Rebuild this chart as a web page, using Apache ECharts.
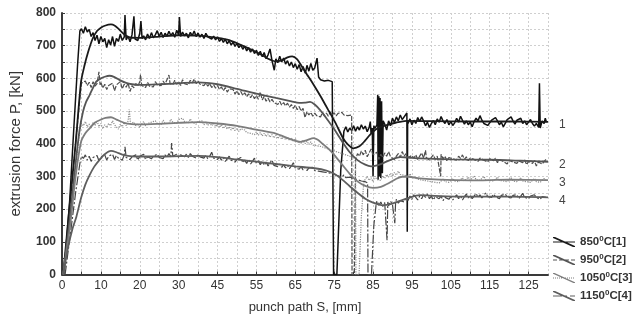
<!DOCTYPE html>
<html><head><meta charset="utf-8">
<script src="https://cdn.jsdelivr.net/npm/echarts@6/dist/echarts.min.js"></script>
<style>html,body{margin:0;padding:0;background:#fff}#c{width:639px;height:320px}</style>
</head><body><div id="c"></div>
<script>
// x positions are in axis units (tick k sits at 10*k); tick labels as printed on the chart
const xTickLabels = ['0','10','20','30','45','55','65','75','85','95','105','115','125'];
const yTickLabels = ['0','100','200','300','400','500','600','700','800'];
const seriesNames = ['850|C[1]','950|C[2]','1050|C[3]','1150|C[4]'];
const curveLabels = ['1','2','3','4'];

// measured traces [x, kN]
const meas1 = [[0.5,0],[2,230],[3,440],[4,640],[4.6,745],[5,752],[5.5,738],[6,758],[6.5,742],[7,750],[7.5,728],[8,740],[8.5,716],[9,732],[9.5,706],[10,728],[10.5,712],[11,722],[11.5,694],[12,718],[12.5,702],[13,728],[13.5,698],[14,722],[14.5,713],[15,735],[15.5,716],[16,726],[16.2,794],[16.5,718],[17,729],[17.5,712],[18,733],[18.5,790],[18.8,720],[19,726],[19.5,716],[20,738],[20.3,775],[20.6,722],[21,730],[21.5,718],[22,736],[22.5,722],[23,740],[23.5,724],[24,733],[24.5,746],[25,728],[25.5,741],[26,725],[26.5,738],[27,729],[27.5,744],[28,731],[28.5,740],[29,726],[29.5,747],[30,733],[30.2,788],[30.5,728],[31,742],[31.5,730],[32,738],[32.5,724],[33,741],[33.5,731],[34,745],[34.5,728],[35,739],[35.5,726],[36,735],[36.5,722],[37,738],[37.5,727],[38,732],[38.5,720],[39,729],[39.5,718],[40,727],[40.5,713],[41,722],[41.5,710],[42,720],[42.5,706],[43,715],[43.5,702],[44,711],[44.5,698],[45,707],[45.5,694],[46,702],[46.5,689],[47,699],[47.5,684],[48,694],[48.5,680],[49,690],[49.5,676],[50,686],[50.5,670],[51,683],[51.5,666],[52,679],[52.5,660],[53,672],[53.5,690],[54,655],[54.6,625],[55,660],[55.5,648],[56,668],[56.5,650],[57,662],[57.5,644],[58,654],[58.5,638],[59,650],[59.5,633],[60,645],[60.5,628],[61,642],[61.5,620],[62,636],[62.6,616],[63,640],[63.5,622],[64,646],[64.5,625],[65,632],[65.6,662],[66,604],[66.5,596],[67,601],[67.5,592],[68,598],[68.5,594],[69,597],[69.5,590],[69.8,596],[69.85,0],[70.7,0],[71.7,320],[72.5,438],[73,452],[73.5,436],[74,448],[74.5,440],[75,455],[75.5,438],[76,452],[76.5,442],[77,458],[77.5,445],[78,454],[78.5,437],[79,450],[79.3,468],[79.5,430],[79.8,448],[80,300],[80.2,455],[80.5,447],[81,458],[81.2,550],[81.3,290],[81.5,545],[81.6,300],[81.8,540],[82,295],[82.2,530],[82.4,310],[82.6,470],[83,460],[83.5,442],[84,470],[84.5,455],[85,478],[85.5,465],[86,482],[86.5,470],[87,488],[87.5,474],[88,480],[88.7,494],[88.8,131],[88.9,470],[89,462],[89.5,476],[90,458],[90.5,472],[91,462],[91.5,480],[92,468],[92.5,482],[93,470],[93.5,455],[94,466],[94.5,450],[95,462],[95.5,471],[96,458],[96.5,476],[97,466],[97.5,483],[98,470],[98.5,462],[99,474],[99.5,458],[100,468],[100.5,456],[101,464],[101.5,478],[102,466],[102.5,484],[103,472],[103.5,460],[104,470],[104.5,458],[105,466],[105.5,452],[106,468],[106.5,478],[107,470],[107.5,486],[108,472],[108.5,462],[109,468],[109.5,456],[110,464],[110.5,472],[111,466],[111.5,480],[112,470],[112.5,458],[113,466],[113.5,452],[114,462],[114.5,474],[115,468],[115.5,482],[116,470],[116.5,460],[117,472],[117.5,466],[118,478],[118.5,462],[119,470],[119.5,458],[120,466],[120.5,474],[121,462],[121.5,454],[122,462],[122.6,450],[122.8,585],[123,448],[123.5,470],[124,462],[124.3,478],[124.6,466]];
const meas2 = [[0.5,0],[2,200],[3.5,400],[4.6,540],[5,585],[5.5,580],[6,592],[6.5,578],[7,588],[7.5,572],[8,590],[8.5,576],[9,584],[9.5,620],[9.8,580],[10,588],[10.5,570],[11,582],[11.5,566],[12,578],[12.5,572],[13,585],[13.5,562],[14,580],[14.5,574],[15,590],[15.5,568],[16,582],[16.5,573],[17,586],[17.5,560],[18,578],[18.5,571],[19,584],[19.5,576],[20,590],[20.2,612],[20.5,578],[21,584],[21.5,572],[22,588],[22.5,576],[23,582],[23.5,574],[24,590],[24.5,580],[25,586],[25.5,578],[26,592],[26.5,582],[27,588],[27.5,610],[27.8,584],[28,590],[28.5,580],[29,594],[29.5,582],[30,590],[30.5,578],[31,596],[31.5,584],[32,590],[32.5,580],[33,594],[33.5,586],[34,598],[34.5,584],[35,592],[35.5,582],[36,588],[36.5,578],[37,586],[37.5,576],[38,584],[38.5,572],[39,580],[39.5,570],[40,578],[40.5,566],[41,574],[41.5,562],[42,572],[42.5,558],[43,568],[43.5,562],[44,566],[44.5,552],[45,562],[45.5,550],[46,560],[46.5,548],[47,556],[47.5,544],[48,553],[48.5,541],[49,550],[49.5,538],[50,548],[50.5,536],[51,558],[51.5,534],[52,545],[52.5,530],[53,540],[53.5,528],[54,536],[54.5,526],[55,532],[55.5,520],[56,530],[56.5,518],[57,526],[57.5,516],[58,524],[58.5,512],[59,520],[59.5,508],[60,518],[60.5,504],[61,514],[61.5,500],[62,508],[62.5,480],[63,498],[63.5,488],[64,496],[64.5,484],[65,494],[65.5,486],[66,492],[66.5,482],[67,496],[67.5,486],[68,494],[68.5,484],[69,497],[69.5,488],[70,495],[70.5,485],[71,493],[71.5,487],[72,496],[72.5,488],[73,494],[73.5,486],[74,492],[74.5,488],[74.6,0],[75.2,0],[75.5,350],[76,370],[76.5,362],[77,378],[77.5,366],[78,380],[78.5,360],[79,372],[79.5,384],[80,366],[80.5,360],[81,374],[81.5,352],[82,368],[82.5,358],[83,372],[83.5,362],[84,376],[84.5,360],[85,366],[85.5,352],[86,362],[86.5,370],[87,358],[87.5,376],[88,362],[88.5,370],[89,358],[89.5,352],[90,364],[90.5,356],[91,366],[91.5,352],[92,362],[92.5,372],[93,356],[93.5,380],[93.7,358],[94,362],[94.5,350],[95,358],[95.5,366],[96,352],[96.5,362],[97,356],[97.4,300],[97.5,368],[98,354],[98.5,362],[99,348],[99.5,358],[100,364],[100.5,354],[101,360],[101.5,350],[102,362],[102.5,355],[103,366],[103.5,352],[104,360],[104.5,348],[105,356],[105.5,362],[106,352],[106.5,358],[107,346],[107.5,356],[108,362],[108.5,350],[109,356],[109.5,344],[110,354],[110.5,360],[111,348],[111.5,356],[112,342],[112.5,352],[113,358],[113.5,346],[114,352],[114.5,338],[115,350],[115.5,356],[116,344],[116.5,350],[117,340],[117.5,348],[118,354],[118.5,342],[119,350],[119.5,336],[120,346],[120.5,352],[121,340],[121.5,348],[122,332],[122.5,344],[123,350],[123.5,338],[124,346],[124.5,352]];
const meas3 = [[0.5,0],[2,170],[3.5,330],[4.6,440],[5,462],[5.5,455],[6,468],[6.5,452],[7,460],[7.5,448],[8,465],[8.5,456],[9,470],[9.5,452],[10,462],[10.5,446],[11,458],[11.5,450],[12,462],[12.5,455],[13,470],[13.5,458],[14,452],[14.5,445],[15,460],[15.5,452],[16,465],[16.5,455],[17,470],[17.3,505],[17.6,462],[18,458],[18.5,466],[19,455],[19.5,462],[20,450],[20.5,460],[21,468],[21.5,455],[22,462],[22.5,458],[23,466],[23.5,460],[24,470],[24.5,462],[25,468],[25.5,459],[26,472],[26.5,464],[27,470],[27.5,462],[28,475],[28.5,466],[29,470],[29.5,462],[30,474],[30.5,468],[31,478],[31.5,468],[32,472],[32.5,464],[33,476],[33.5,466],[34,470],[34.5,460],[35,468],[35.5,462],[36,470],[36.5,458],[37,466],[37.5,456],[38,464],[38.5,455],[39,462],[39.5,452],[40,460],[40.5,450],[41,458],[41.5,447],[42,455],[42.5,445],[43,452],[43.5,442],[44,450],[44.5,440],[45,448],[45.5,438],[46,446],[46.5,450],[47,442],[47.5,434],[48,440],[48.5,432],[49,438],[49.5,428],[50,436],[50.5,426],[51,434],[51.5,424],[52,432],[52.5,422],[53,430],[53.5,420],[54,428],[54.5,418],[55,426],[55.5,416],[56,424],[56.5,414],[57,422],[57.5,412],[58,420],[58.5,410],[59,418],[59.5,408],[60,416],[60.5,406],[61,412],[61.5,402],[62,410],[62.5,400],[63,408],[63.5,398],[64,406],[64.5,396],[65,402],[65.5,394],[66,400],[66.5,392],[67,396],[67.5,388],[68,392],[68.5,384],[69,388],[69.5,380],[70,384],[70.5,376],[71,380],[71.5,372],[72,376],[72.5,368],[73,372],[73.5,364],[74,368],[74.5,360],[75,364],[75.5,358],[75.6,0],[76.4,0],[77,180],[77.6,280],[78,292],[78.5,300],[79,288],[79.5,296],[80,284],[80.5,300],[81,290],[81.5,296],[82,288],[82.5,302],[83,294],[83.5,306],[84,298],[84.5,310],[85,300],[85.5,312],[86,304],[86.5,316],[87,306],[87.5,312],[88,304],[88.5,310],[89,300],[89.5,308],[90,298],[90.5,304],[91,294],[91.5,300],[92,290],[92.5,296],[93,288],[93.5,294],[94,286],[94.5,292],[95,284],[95.5,290],[96,282],[96.5,288],[97,280],[97.5,286],[98,292],[98.5,284],[99,290],[99.5,282],[100,288],[100.5,294],[101,286],[101.5,292],[102,284],[102.5,290],[103,296],[103.5,286],[104,292],[104.5,298],[105,288],[105.5,294],[106,302],[106.5,290],[107,296],[107.5,288],[108,294],[108.5,300],[109,290],[109.5,296],[110,288],[110.5,294],[111,286],[111.5,292],[112,298],[112.5,288],[113,294],[113.5,286],[114,292],[114.5,284],[115,290],[115.5,296],[116,286],[116.5,292],[117,284],[117.5,290],[118,296],[118.5,286],[119,292],[119.5,284],[120,290],[120.5,282],[121,288],[121.5,294],[122,284],[122.5,290],[123,282],[123.5,288],[124,294],[124.5,286]];
const meas4 = [[0.8,0],[2,110],[3.5,250],[4.6,340],[5,362],[5.5,355],[6,366],[6.5,350],[7,362],[7.5,346],[8,358],[8.5,352],[9,364],[9.5,348],[10,360],[10.5,354],[11,366],[11.5,350],[12,362],[12.5,356],[13,368],[13.5,352],[14,364],[14.5,356],[15,362],[15.5,350],[16,366],[16.2,391],[16.5,358],[17,364],[17.5,352],[18,360],[18.5,354],[19,366],[19.5,350],[20,362],[20.5,356],[21,368],[21.5,352],[22,360],[22.5,366],[23,354],[23.5,362],[24,356],[24.5,368],[25,358],[25.5,364],[26,354],[26.5,366],[27,358],[27.5,370],[28,360],[28.2,402],[28.5,362],[29,356],[29.5,368],[30,358],[30.5,366],[31,372],[31.5,360],[32,368],[32.5,358],[33,370],[33.5,362],[34,366],[34.5,356],[35,368],[35.5,360],[36,366],[36.5,356],[37,364],[37.5,354],[38,362],[38.5,374],[39,356],[39.5,362],[40,352],[40.5,360],[41,350],[41.5,358],[42,346],[42.5,354],[43,362],[43.5,350],[44,356],[44.5,344],[45,352],[45.5,346],[46,358],[46.5,342],[47,350],[47.5,340],[48,352],[48.5,338],[49,346],[49.5,356],[50,340],[50.5,348],[51,336],[51.5,346],[52,334],[52.5,344],[53,332],[53.5,342],[54,350],[54.5,334],[55,340],[55.5,330],[56,338],[56.5,328],[57,336],[57.5,326],[58,334],[58.5,324],[59,332],[59.5,342],[60,326],[60.5,332],[61,322],[61.5,330],[62,320],[62.5,328],[63,318],[63.5,326],[64,320],[64.5,328],[65,318],[65.5,324],[66,316],[66.5,322],[67,314],[67.5,320],[68,312],[68.5,318],[69,310],[69.5,316],[70,306],[70.5,312],[71,302],[71.5,308],[72,298],[72.5,305],[73,296],[73.5,302],[74,298],[74.5,304],[75,294],[75.5,300],[76,290],[76.5,296],[77,286],[77.5,292],[78,284],[78.6,280],[78.7,0],[79.6,0],[80.2,150],[80.8,215],[81,225],[81.5,212],[82,222],[82.5,208],[83,220],[83.5,214],[83.6,105],[83.8,222],[84,210],[84.5,224],[85,214],[85.6,157],[85.8,220],[86,230],[86.5,218],[87,226],[87.5,232],[88,222],[88.5,236],[89,226],[89.5,240],[90,230],[90.5,244],[91,236],[91.5,228],[92,240],[92.5,232],[93,244],[93.5,236],[94,246],[94.5,232],[95,240],[95.5,228],[96,238],[96.5,244],[97,232],[97.5,240],[98,226],[98.5,236],[99,242],[99.5,230],[100,238],[100.5,228],[101,236],[101.5,244],[102,232],[102.5,240],[103,228],[103.5,238],[104,246],[104.5,234],[105,242],[105.5,232],[106,240],[106.5,248],[107,236],[107.5,244],[108,234],[108.5,242],[109,250],[109.5,238],[110,244],[110.5,236],[111,246],[111.5,238],[112,244],[112.5,232],[113,242],[113.5,236],[114,246],[114.5,238],[115,244],[115.5,234],[116,242],[116.5,236],[117,244],[117.5,232],[118,240],[118.5,248],[119,236],[119.5,242],[120,232],[120.5,240],[121,234],[121.5,244],[122,236],[122.5,242],[123,230],[123.5,238],[124,244],[124.5,236]];

// smooth fitted curves [x, kN]
const fit1 = [[0.3,0],[2,215],[3.5,400],[4.9,590],[5.8,640],[6.7,680],[7.9,722],[9,745],[10,755],[11,761],[12.6,765],[13.5,762],[14.5,752],[15.5,740],[16.5,730],[17.5,725],[20,724],[25,728],[30,732],[35,731],[40,724],[43,717],[47,697],[51.5,671],[53,660],[55,652],[56.5,655],[58,664],[59.2,667],[60.5,658],[61.7,636],[63,612],[64,594],[65.5,565],[66.8,539],[68.5,503],[70.2,467],[72.3,417],[73.5,398],[74.9,386],[76.5,392],[78,410],[79.2,427],[81,446],[83.5,457],[86,465],[88.6,470],[95,469],[105,468],[115,468],[125,467]];
const fit2 = [[0.3,0],[2,170],[3.5,340],[4.5,440],[5.4,498],[6.2,528],[7.1,549],[8,572],[8.8,590],[10,600],[11,605],[12.2,608],[13.5,604],[15,594],[16.5,586],[18,582],[20,580],[25,582],[30,585],[35,588],[40,582],[45,568],[50,553],[55,540],[59,530],[61,525],[62.5,526],[63.8,528],[65,520],[66.4,503],[68,478],[70,445],[72,408],[74,374],[76,350],[78,336],[79.5,331],[81,334],[83,343],[85,353],[87,359],[89,358],[92,355],[100,352],[110,351],[118,348],[125,345]];
const fit3 = [[0.3,0],[2,140],[3.5,300],[4.9,406],[6,432],[7.1,447],[8.5,465],[10,474],[11.2,479],[12.6,481],[14,474],[16,464],[18,460],[20,459],[25,461],[30,464],[35,466],[40,462],[45,455],[50,443],[55,431],[61.3,406],[63,411],[64.7,417],[65.8,412],[67,400],[68.5,385],[70,366],[72,337],[74,308],[76,285],[78,271],[80,265],[82,268],[84,279],[86,293],[87.5,299],[89,299],[92,294],[97,290],[105,288],[115,290],[125,289]];
const fit4 = [[0.3,0],[1.5,80],[2.7,140],[3.7,177],[4.9,234],[6,275],[7.1,304],[8.3,330],[9.6,350],[11,368],[12.6,378],[14,374],[15.5,367],[17,363],[19,361],[25,361],[30,362],[35,363],[40,359],[45,352],[50,345],[55,338],[60,331],[65,325],[68,318],[70,308],[72,291],[74,270],[76,250],[78,232],[80,220],[82.6,212],[84.5,215],[86.5,224],[89,234],[92,243],[95,241],[105,238],[115,238],[125,236]];

const measured = [meas1, meas2, meas3, meas4];
const fits = [fit1, fit2, fit3, fit4];
const measColors = ['#111111', '#4d4d4d', '#8c8c8c', '#454545'];
const fitColors = ['#1a1a1a', '#555555', '#7d7d7d', '#5e5e5e'];
const measDash = ['solid', [5, 1.5], [1.2, 1.2], [9, 2, 2, 2]];

const icons = [
  'path://M0,0L2,0L22,9L22,10L20,10L0,1ZM0,4.5L22,4.5L22,5.5L0,5.5Z',
  'path://M0,0L2,0L22,9L22,10L20,10L0,1ZM0,4.5L4,4.5L4,5.5L0,5.5ZM6,4.5L10,4.5L10,5.5L6,5.5ZM12,4.5L16,4.5L16,5.5L12,5.5ZM18,4.5L22,4.5L22,5.5L18,5.5Z',
  'path://M0,0L1.6,0L22,9.2L22,10L20.4,10L0,0.8ZM0,4.6L1,4.6L1,5.4L0,5.4ZM2,4.6L3,4.6L3,5.4L2,5.4ZM4,4.6L5,4.6L5,5.4L4,5.4ZM6,4.6L7,4.6L7,5.4L6,5.4ZM8,4.6L9,4.6L9,5.4L8,5.4ZM10,4.6L11,4.6L11,5.4L10,5.4ZM12,4.6L13,4.6L13,5.4L12,5.4ZM14,4.6L15,4.6L15,5.4L14,5.4ZM16,4.6L17,4.6L17,5.4L16,5.4ZM18,4.6L19,4.6L19,5.4L18,5.4ZM20,4.6L21,4.6L21,5.4L20,5.4Z',
  'path://M0,0L2,0L22,9L22,10L20,10L0,1ZM0,4.5L9,4.5L9,5.5L0,5.5ZM12,4.5L14,4.5L14,5.5L12,5.5ZM17,4.5L22,4.5L22,5.5L17,5.5Z'
];

const series = [];
for (let i = 0; i < 4; i++) {
  series.push({
    name: seriesNames[i], type: 'line', data: measured[i], showSymbol: false, symbol: 'none',
    lineStyle: { color: measColors[i], width: i === 0 ? 1.5 : 1.2, type: measDash[i] },
    itemStyle: { color: fitColors[i] }, z: 2 + i, animation: false
  });
}
for (let i = 0; i < 4; i++) {
  series.push({
    name: seriesNames[i], type: 'line', data: fits[i], smooth: 0.25, showSymbol: false, symbol: 'none',
    lineStyle: { color: fitColors[i], width: 1.8 }, itemStyle: { color: fitColors[i] }, z: 10, animation: false,
    endLabel: { show: true, formatter: curveLabels[i], color: '#444', fontSize: 12,
      fontFamily: 'Liberation Sans', offset: [3, 3] }
  });
}

const chart = echarts.init(document.getElementById('c'), null, { renderer: 'canvas' });
chart.setOption({
  animation: false,
  backgroundColor: '#fff',
  grid: { left: 61, right: 91, top: 13, bottom: 45.5, containLabel: false },
  xAxis: {
    type: 'value', min: 0, max: 125, interval: 5,
    name: 'punch path S, [mm]', nameLocation: 'middle', nameGap: 26,
    nameTextStyle: { fontSize: 13, color: '#333', fontFamily: 'Liberation Sans' },
    axisLine: { show: true, lineStyle: { color: '#3a3a3a', width: 2 } },
    axisTick: { show: true, inside: true, length: 3, lineStyle: { color: '#3a3a3a' } },
    axisLabel: { fontSize: 12, color: '#333', fontFamily: 'Liberation Sans', margin: 5, showMaxLabel: false,
      formatter: v => (v % 10 === 0 ? (xTickLabels[v / 10] || '') : '') },
    splitLine: { show: true, lineStyle: { color: '#cfcfcf', type: [2, 2], width: 1 } }
  },
  yAxis: {
    type: 'value', min: 0, max: 800, interval: 50,
    name: 'extrusion force P, [kN]', nameLocation: 'middle', nameGap: 39, nameRotate: 90,
    nameTextStyle: { fontSize: 15, color: '#333', fontFamily: 'Liberation Sans' },
    axisLine: { show: true, lineStyle: { color: '#3a3a3a', width: 2 } },
    axisTick: { show: true, inside: true, length: 3, lineStyle: { color: '#3a3a3a' } },
    axisLabel: { fontSize: 12, fontWeight: 'bold', color: '#333', fontFamily: 'Liberation Sans', margin: 6,
      formatter: v => (v % 100 === 0 ? yTickLabels[v / 100] : '') },
    splitLine: { show: true, lineStyle: { color: '#cfcfcf', type: [2, 2], width: 1 } }
  },
  legend: {
    orient: 'vertical', left: 553, top: 235, padding: 0, itemWidth: 22, itemHeight: 10, itemGap: 5,
    data: seriesNames.map((n, i) => ({ name: n, icon: icons[i] })),
    formatter: n => { const p = n.split('|'); return '{a|' + p[0] + '}{s|0}{a|' + p[1] + '}'; },
    textStyle: { rich: {
      a: { fontSize: 11.5, fontWeight: 'bold', color: '#333', fontFamily: 'Liberation Sans' },
      s: { fontSize: 8, fontWeight: 'bold', color: '#333', fontFamily: 'Liberation Sans', padding: [0, 0, 6, 0] }
    } },
    itemStyle: { borderWidth: 0 }
  },
  series: series
});
</script></body></html>
